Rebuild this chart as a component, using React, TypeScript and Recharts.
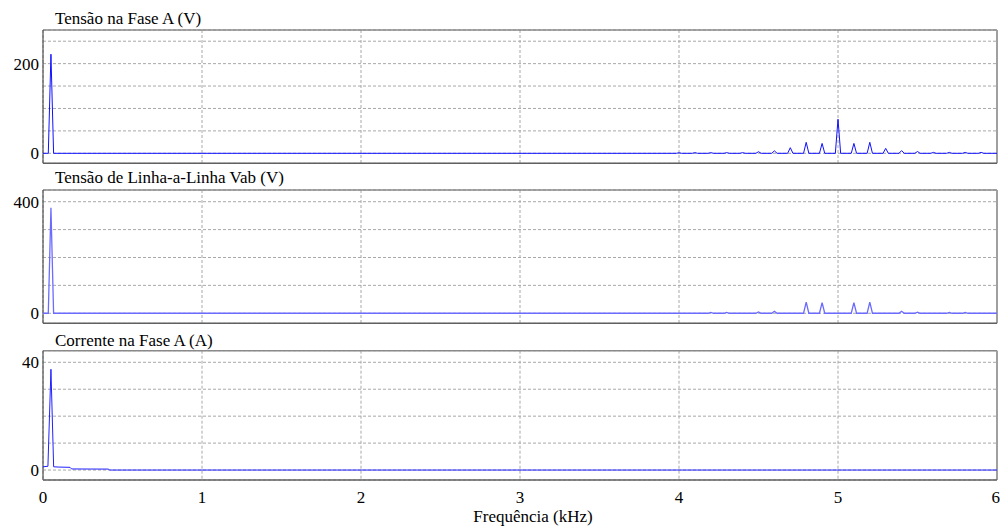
import React from 'react';
import { LineChart, Line, XAxis, YAxis, CartesianGrid, ReferenceLine, Label } from 'recharts';

// ---- data (frequencies in kHz) ----
const binKHz = 1 / 60; // FFT resolution ~16.7 Hz
const xTicks = [0, 1, 2, 3, 4, 5, 6];

// Panel 1: Tensão na Fase A (V)
const phaseFreqs = [0.05, 4.0, 4.1, 4.2, 4.3, 4.4, 4.5, 4.6, 4.7, 4.8, 4.9, 5.0, 5.1, 5.2, 5.3, 5.4, 5.5, 5.6, 5.7, 5.8, 5.9];
const phaseVals = [221, 1.2, 1.5, 1.5, 1.5, 1.5, 3.5, 5.5, 12.5, 24.5, 22, 76, 22, 24.5, 11, 6, 4, 2, 2, 2, 2];
const phaseTicks = [0, 50, 100, 150, 200, 250];
const phaseLabels = [0, 200];
const phaseDomain = [-22.3, 275];

// Panel 2: Tensão de Linha-a-Linha Vab (V)
const lineFreqs = [0.05, 4.2, 4.3, 4.5, 4.6, 4.8, 4.9, 5.1, 5.2, 5.4, 5.5, 5.7, 5.8];
const lineVals = [378, 3, 3, 5, 7, 40, 38, 38, 40, 7, 4, 3, 3];
const lineTicks = [0, 100, 200, 300, 400];
const lineLabels = [0, 400];
const lineDomain = [-36, 442];

// Panel 3: Corrente na Fase A (A)
const currentFreqs = [0, 0.031, 0.05, 0.067, 0.1, 0.17, 0.18, 0.3, 0.41, 0.42, 6];
const currentVals = [1.2, 1.4, 37.4, 1.2, 1.1, 1.0, 0.4, 0.37, 0.35, 0.0, 0.0];
const currentTicks = [0, 10, 20, 30, 40];
const currentLabels = [0, 40];
const currentDomain = [-3.7, 44.3];

const titles = ['Tensão na Fase A (V)', 'Tensão de Linha-a-Linha Vab (V)', 'Corrente na Fase A (A)'];
const xLabel = 'Frequência (kHz)';

function buildSpectrum(freqs: number[], vals: number[]) {
  const pts: { f: number; v: number }[] = [{ f: 0, v: 0 }];
  freqs.forEach((f, i) => {
    pts.push({ f: f - binKHz, v: 0 }, { f, v: vals[i] }, { f: f + binKHz, v: 0 });
  });
  pts.push({ f: 6, v: 0 });
  return pts;
}

const phaseData = buildSpectrum(phaseFreqs, phaseVals);
const lineData = buildSpectrum(lineFreqs, lineVals);
const currentData = currentFreqs.map((f, i) => ({ f, v: currentVals[i] }));

const FONT = '"Liberation Serif", "Times New Roman", serif';

type PanelProps = {
  data: { f: number; v: number }[];
  domain: number[];
  ticks: number[];
  labels: number[];
  top: number;
  height: number;
  marginTop: number;
  marginBottom: number;
  showX?: boolean;
  color: string;
  strokeWidth: number;
};

function Panel({ data, domain, ticks, labels, top, height, marginTop, marginBottom, showX, color, strokeWidth }: PanelProps) {
  return (
    <div style={{ position: 'absolute', left: 0, top }}>
      <LineChart width={1000} height={height} data={data} margin={{ top: marginTop, right: 3, bottom: marginBottom, left: 0 }}>
        <CartesianGrid stroke="#a8a8a8" strokeDasharray="3 2" />
        <XAxis
          dataKey="f"
          type="number"
          domain={[0, 6]}
          ticks={xTicks}
          hide={!showX}
          height={showX ? 46 : 0}
          axisLine={false}
          tickLine={false}
          tickSize={0}
          tickMargin={11}
          tick={{ fontFamily: FONT, fontSize: 17, fill: '#000' }}
          allowDataOverflow
        >
          {showX && (
            <Label
              content={(props: any) => {
                const vb = props.viewBox;
                return (
                  <text x={vb.x + vb.width / 2 + 13} y={vb.y + vb.height - 4.5} textAnchor="middle" fontFamily={FONT} fontSize={17} fill="#000">
                    {xLabel}
                  </text>
                );
              }}
            />
          )}
        </XAxis>
        <YAxis
          type="number"
          domain={domain}
          ticks={ticks}
          width={43}
          allowDataOverflow
          axisLine={false}
          tickLine={false}
          tickSize={0}
          tickMargin={4}
          interval={0}
          tickFormatter={(v: number) => (labels.includes(v) ? String(v) : '')}
          tick={{ fontFamily: FONT, fontSize: 17, fill: '#000' }}
        />
        <ReferenceLine y={domain[1]} stroke="#8a8a8a" strokeWidth={1.5} />
        <ReferenceLine x={0} stroke="#505050" strokeWidth={1.2} />
        <ReferenceLine x={6} stroke="#a0a0a0" strokeWidth={2} />
        <ReferenceLine y={domain[0]} stroke="#606060" strokeWidth={1.5} />
        <Line type="linear" dataKey="v" stroke={color} strokeWidth={strokeWidth} dot={false} isAnimationActive={false} />
      </LineChart>
    </div>
  );
}

export default function App() {
  return (
    <div style={{ position: 'absolute', left: 0, top: 0, width: 1000, height: 526, background: '#fff' }}>
      <Panel data={phaseData} domain={phaseDomain} ticks={phaseTicks} labels={phaseLabels} top={0} height={170} marginTop={30} marginBottom={6.7} color="#1010ff" strokeWidth={1} />
      <Panel data={lineData} domain={lineDomain} ticks={lineTicks} labels={lineLabels} top={170} height={160} marginTop={20} marginBottom={6.7} color="#6b6bff" strokeWidth={1.3} />
      <Panel data={currentData} domain={currentDomain} ticks={currentTicks} labels={currentLabels} top={330} height={196} marginTop={20.7} marginBottom={0} showX color="#2020ff" strokeWidth={1} />
      <svg width={1000} height={526} style={{ position: 'absolute', left: 0, top: 0, pointerEvents: 'none' }}>
        <text x={55} y={24} fontFamily={FONT} fontSize={17} fill="#000">{titles[0]}</text>
        <text x={55} y={183.4} fontFamily={FONT} fontSize={17} fill="#000">{titles[1]}</text>
        <text x={55} y={345.7} fontFamily={FONT} fontSize={17} fill="#000">{titles[2]}</text>
      </svg>
    </div>
  );
}
